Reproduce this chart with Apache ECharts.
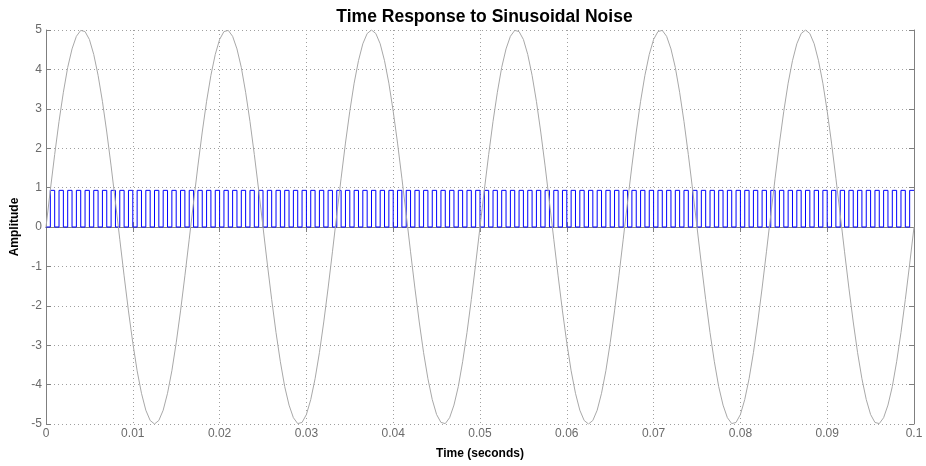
<!DOCTYPE html>
<html>
<head>
<meta charset="utf-8">
<script src="https://cdn.jsdelivr.net/npm/echarts@6/dist/echarts.min.js"></script>
<style>
html,body{margin:0;padding:0;background:#fff;}
#chart{width:926px;height:466px;}
</style>
</head>
<body>
<div id="chart"></div>
<script>
// Sample spacing (seconds)
const sampleStep = 0.0005;

// Input sinusoidal noise (gray), sampled every 0.5 ms
const sineNoise = [
  0,0.94,1.84,2.68,3.42,4.05,4.52,4.84,4.99,4.96,4.76,4.38,3.85,3.19,2.41,1.55,0.63,-0.31,-1.24,-2.13,
  -2.94,-3.65,-4.22,-4.65,-4.91,-5,-4.91,-4.65,-4.22,-3.65,-2.94,-2.13,-1.24,-0.31,0.63,1.55,2.41,3.19,3.85,4.38,
  4.76,4.96,4.99,4.84,4.52,4.05,3.42,2.68,1.84,0.94,
  0,-0.94,-1.84,-2.68,-3.42,-4.05,-4.52,-4.84,-4.99,-4.96,-4.76,-4.38,-3.85,-3.19,-2.41,-1.55,-0.63,0.31,1.24,2.13,
  2.94,3.65,4.22,4.65,4.91,5,4.91,4.65,4.22,3.65,2.94,2.13,1.24,0.31,-0.63,-1.55,-2.41,-3.19,-3.85,-4.38,
  -4.76,-4.96,-4.99,-4.84,-4.52,-4.05,-3.42,-2.68,-1.84,-0.94,
  0,0.94,1.84,2.68,3.42,4.05,4.52,4.84,4.99,4.96,4.76,4.38,3.85,3.19,2.41,1.55,0.63,-0.31,-1.24,-2.13,
  -2.94,-3.65,-4.22,-4.65,-4.91,-5,-4.91,-4.65,-4.22,-3.65,-2.94,-2.13,-1.24,-0.31,0.63,1.55,2.41,3.19,3.85,4.38,
  4.76,4.96,4.99,4.84,4.52,4.05,3.42,2.68,1.84,0.94,
  0,-0.94,-1.84,-2.68,-3.42,-4.05,-4.52,-4.84,-4.99,-4.96,-4.76,-4.38,-3.85,-3.19,-2.41,-1.55,-0.63,0.31,1.24,2.13,
  2.94,3.65,4.22,4.65,4.91,5,4.91,4.65,4.22,3.65,2.94,2.13,1.24,0.31,-0.63,-1.55,-2.41,-3.19,-3.85,-4.38,
  -4.76,-4.96,-4.99,-4.84,-4.52,-4.05,-3.42,-2.68,-1.84,-0.94,
  0
];

// Pulse response (blue), held level per 0.5 ms sample
const pulseResponse = [
  0,0.93,0,0.93,0,0.93,0,0.93,0,0.93,0,0.93,0,0.93,0,0.93,0,0.93,0,0.93,
  0,0.93,0,0.93,0,0.93,0,0.93,0,0.93,0,0.93,0,0.93,0,0.93,0,0.93,0,0.93,
  0,0.93,0,0.93,0,0.93,0,0.93,0,0.93,0,0.93,0,0.93,0,0.93,0,0.93,0,0.93,
  0,0.93,0,0.93,0,0.93,0,0.93,0,0.93,0,0.93,0,0.93,0,0.93,0,0.93,0,0.93,
  0,0.93,0,0.93,0,0.93,0,0.93,0,0.93,0,0.93,0,0.93,0,0.93,0,0.93,0,0.93,
  0,0.93,0,0.93,0,0.93,0,0.93,0,0.93,0,0.93,0,0.93,0,0.93,0,0.93,0,0.93,
  0,0.93,0,0.93,0,0.93,0,0.93,0,0.93,0,0.93,0,0.93,0,0.93,0,0.93,0,0.93,
  0,0.93,0,0.93,0,0.93,0,0.93,0,0.93,0,0.93,0,0.93,0,0.93,0,0.93,0,0.93,
  0,0.93,0,0.93,0,0.93,0,0.93,0,0.93,0,0.93,0,0.93,0,0.93,0,0.93,0,0.93,
  0,0.93,0,0.93,0,0.93,0,0.93,0,0.93,0,0.93,0,0.93,0,0.93,0,0.93,0,0.93,
  0.93
];

const xTickLabels = ['0','0.01','0.02','0.03','0.04','0.05','0.06','0.07','0.08','0.09','0.1'];
const yTickLabels = ['-5','-4','-3','-2','-1','0','1','2','3','4','5'];

const sampleTimes = sineNoise.map((_, i) => i * sampleStep);

const chart = echarts.init(document.getElementById('chart'), null, {renderer: 'canvas'});

const axisGray = '#7f7f7f';
const labelGray = '#6a6a6a';
const gridDots = {show: true, lineStyle: {color: '#a0a0a0', type: [1, 3], width: 1}};
const fontFam = '"Liberation Sans", Arial, Helvetica, sans-serif';

chart.setOption({
  animation: false,
  backgroundColor: '#ffffff',
  title: {
    text: 'Time Response to Sinusoidal Noise',
    left: 479.5, textAlign: 'center', top: 3,
    textStyle: {fontFamily: fontFam, fontSize: 17.5, fontWeight: 'bold', color: '#000'}
  },
  grid: {left: 46, right: 12, top: 30, bottom: 42, containLabel: false},
  xAxis: [{
    type: 'value', position: 'bottom', min: 0, max: 0.1, interval: 0.01,
    name: 'Time (seconds)', nameLocation: 'middle', nameGap: 24,
    nameTextStyle: {fontFamily: fontFam, fontSize: 12, fontWeight: 'bold', color: '#000'},
    axisLine: {show: true, lineStyle: {color: axisGray, width: 1}},
    axisTick: {show: true, inside: true, length: 5, lineStyle: {color: axisGray}},
    axisLabel: {
      color: labelGray, fontFamily: fontFam, fontSize: 12, margin: 4,
      formatter: v => xTickLabels[Math.round(v / 0.01)]
    },
    splitLine: gridDots
  }, {
    type: 'value', position: 'top', min: 0, max: 0.1, interval: 0.01,
    axisLine: {show: true, lineStyle: {color: axisGray, width: 1}},
    axisTick: {show: true, inside: true, length: 5, lineStyle: {color: axisGray}},
    axisLabel: {show: false}, splitLine: {show: false}
  }],
  yAxis: [{
    type: 'value', position: 'left', min: -5, max: 5, interval: 1,
    name: 'Amplitude', nameLocation: 'middle', nameGap: 23,
    nameTextStyle: {fontFamily: fontFam, fontSize: 12, fontWeight: 'bold', color: '#000'},
    axisLine: {show: true, onZero: false, lineStyle: {color: axisGray, width: 1}},
    axisTick: {show: true, inside: true, length: 5, lineStyle: {color: axisGray}},
    axisLabel: {
      color: labelGray, fontFamily: fontFam, fontSize: 12, margin: 4,
      formatter: v => yTickLabels[Math.round(v) + 5]
    },
    splitLine: gridDots
  }, {
    type: 'value', position: 'right', min: -5, max: 5, interval: 1,
    axisLine: {show: true, onZero: false, lineStyle: {color: axisGray, width: 1}},
    axisTick: {show: true, inside: true, length: 5, lineStyle: {color: axisGray}},
    axisLabel: {show: false}, splitLine: {show: false}
  }],
  series: [{
    name: 'Response', type: 'line', step: 'end', showSymbol: false,
    xAxisIndex: 0, yAxisIndex: 0,
    lineStyle: {color: '#0000ff', width: 1},
    data: sampleTimes.map((t, i) => [t, pulseResponse[i]]),
    z: 2
  }, {
    name: 'Noise', type: 'line', showSymbol: false,
    xAxisIndex: 0, yAxisIndex: 0,
    lineStyle: {color: '#a8a8a8', width: 1},
    data: sampleTimes.map((t, i) => [t, sineNoise[i]]),
    z: 3
  }]
});
</script>
</body>
</html>
